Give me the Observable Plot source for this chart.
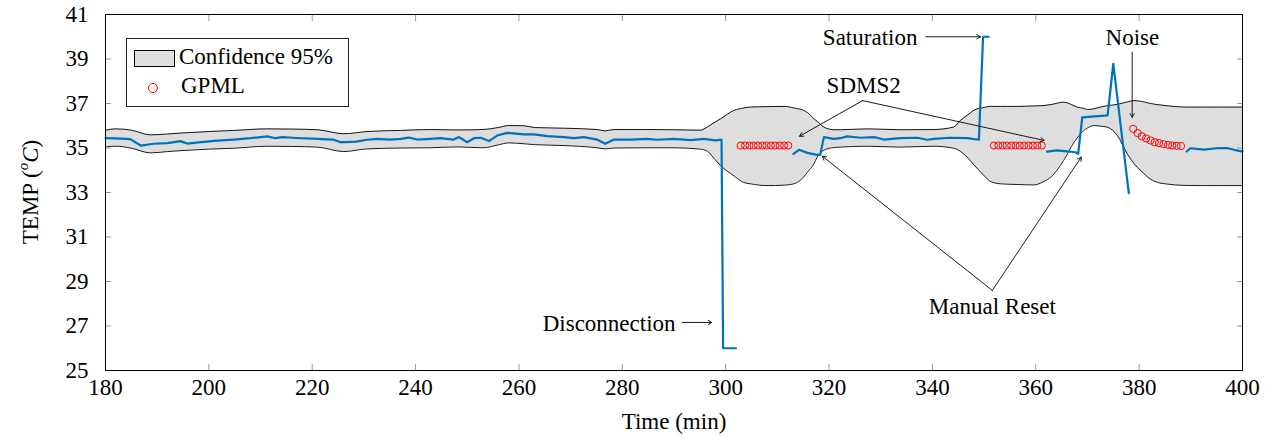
<!DOCTYPE html>
<html><head><meta charset="utf-8">
<script src="https://cdn.jsdelivr.net/npm/d3@7"></script>
<script src="https://cdn.jsdelivr.net/npm/@observablehq/plot@0.6"></script>
<style>
body{margin:0;background:#fff;}
#wrap{position:relative;width:1270px;height:438px;font-family:"Liberation Serif",serif;}
#legend{position:absolute;left:126px;top:38px;}
</style></head>
<body><div id="wrap"></div>
<script>
// Confidence band (95%)
const bandTime  = [180,182,185,188.7,192,195.2,200,204.8,211.3,216,221,226.1,230.6,237.1,242.9,248,253,256,258,261,263,268.7,275.1,276.7,278.4,284.8,290,295.1,296.5,297.5,299,301.6,303.5,304.8,308,311.3,313.2,315.1,315.8,317.1,317.7,319,319.6,320.9,322.2,327.4,333.8,340.3,344.1,345.4,346.7,348.2,350,351.2,353.2,356.4,359.6,361.6,362.9,365.4,367.4,368,369.3,370,371.2,372.5,373.8,375.8,377.7,379,380.3,382.2,383.5,385.4,388.7,392,400];
const bandUpper = [35.80,35.86,35.80,35.59,35.63,35.68,35.74,35.79,35.86,35.85,35.82,35.64,35.74,35.79,35.83,35.81,35.83,35.92,36.01,36.00,35.92,35.89,35.83,35.77,35.83,35.83,35.82,35.80,35.95,36.10,36.31,36.69,36.80,36.84,36.86,36.87,36.80,36.69,36.60,36.31,36.20,35.94,35.88,35.82,35.82,35.86,35.82,35.83,35.94,36.24,36.46,36.72,36.82,36.87,36.87,36.87,36.89,36.91,36.95,37.06,36.90,36.84,36.78,36.73,36.76,36.84,36.90,36.96,37.07,37.13,37.10,37.00,36.95,36.90,36.84,36.84,36.84];
const bandLower = [35.05,35.08,34.99,34.78,34.84,34.89,34.95,34.99,35.08,35.07,35.04,34.84,34.96,35.00,35.01,35.05,35.01,35.14,35.23,35.19,35.15,35.11,35.01,34.96,35.00,35.01,35.01,34.95,34.85,34.60,34.21,33.75,33.45,33.39,33.31,33.33,33.39,33.70,33.91,34.30,34.59,34.90,34.96,35.02,35.04,35.08,35.04,35.08,34.99,34.85,34.59,34.20,33.76,33.50,33.39,33.36,33.34,33.50,33.69,34.44,35.26,35.45,35.79,35.90,36.01,35.98,35.94,35.56,34.74,34.30,33.99,33.60,33.46,33.38,33.32,33.31,33.31];

// Sensor measurements (null = gap)
const sensorTime = [180,182,184.8,186.8,189.3,192,194.5,195.8,198,201.6,204.8,208,211.3,212.9,214.2,217,221,224,225.5,226.4,228.5,230.6,232.6,235,237.1,238.7,240.3,242.9,244.8,247.4,248.4,250,251.3,252.6,254.2,255.8,257.7,260.9,262.9,265.5,268.7,270.6,272.6,275.1,276.7,278.4,281.6,284.8,286.8,290,293.2,295.8,298,299.2,299.5,302,
  306,
  313.1,314.2,315.8,317.7,318.3,319,320.9,322.2,323.5,326.1,328.7,330.6,333.8,337.1,339,340.3,343.5,346.7,349,349.8,350.9,
  356,
  362.2,364.1,366.1,367.7,368.2,369,373.9,375,378,
  384,
  389.2,389.9,392.5,395.1,397,398.9,400];
const sensorTemp = [35.44,35.43,35.40,35.11,35.19,35.22,35.31,35.20,35.25,35.33,35.38,35.44,35.52,35.44,35.49,35.45,35.41,35.38,35.26,35.26,35.29,35.37,35.41,35.38,35.41,35.47,35.38,35.41,35.44,35.38,35.49,35.26,35.44,35.46,35.31,35.56,35.68,35.61,35.61,35.53,35.49,35.44,35.49,35.38,35.19,35.38,35.38,35.41,35.37,35.41,35.35,35.41,35.34,35.38,26.0,26.0,
  null,
  34.74,34.92,34.78,34.69,34.69,35.49,35.41,35.44,35.52,35.46,35.49,35.38,35.44,35.46,35.37,35.41,35.46,35.44,35.37,40.0,40.0,
  null,
  34.84,34.89,34.85,34.81,34.74,36.38,36.47,38.78,32.97,
  null,
  34.84,34.99,34.93,34.99,35.00,34.89,34.84];

// GPML reconstruction
const gpmlTime = [302.9,303.75,304.6,305.4,306.25,307.1,307.9,308.75,309.6,310.45,311.3,312.1,
  351.9,352.75,353.6,354.4,355.25,356.1,356.9,357.75,358.6,359.45,360.3,361.15,
  378.85,379.7,380.5,381.35,382.2,383.0,383.85,384.7,385.6,386.4,387.25,388.1];
const gpmlTemp = [35.11,35.11,35.11,35.11,35.11,35.11,35.11,35.11,35.11,35.11,35.11,35.11,
  35.11,35.11,35.11,35.11,35.11,35.11,35.11,35.11,35.11,35.11,35.11,35.11,
  35.86,35.67,35.53,35.43,35.34,35.26,35.22,35.17,35.14,35.11,35.10,35.09];

const xTicks = [180,200,220,240,260,280,300,320,340,360,380,400];
const yTicks = [25,27,29,31,33,35,37,39,41];

// Annotations (data coordinates)
const noteText   = ["Disconnection","Saturation","SDMS2","Noise","Manual Reset"];
const noteTime   = [290.3,337.1,326.7,378.7,351.6];
const noteTemp   = [27.11,39.97,37.81,39.97,27.88];
const noteAnchor = ["end","end","middle","middle","middle"];
const arrowFromTime = [291.6,338.7,326.5,326.5,378.65,351.6,351.6];
const arrowFromTemp = [27.16,40.0,37.13,37.13,39.31,28.6,28.6];
const arrowToTime   = [297.3,349.3,314.3,361.6,378.65,318.7,368.8];
const arrowToTemp   = [27.16,40.0,35.53,35.34,36.38,34.63,34.59];

const band = bandTime.map((t,i)=>({t, hi: bandUpper[i], lo: bandLower[i]}));
const sensor = sensorTime.map((t,i)=>({t, v: sensorTemp[i]}));
const gpml = gpmlTime.map((t,i)=>({t, v: gpmlTemp[i]}));
const notes = noteText.map((s,i)=>({s, t: noteTime[i], v: noteTemp[i], a: noteAnchor[i]}));
const arrows = arrowFromTime.map((t,i)=>({t1:t, v1:arrowFromTemp[i], t2:arrowToTime[i], v2:arrowToTemp[i]}));

const font = '"Liberation Serif", serif';
const fs = 23;
const chart = Plot.plot({
  width: 1270, height: 438,
  marginLeft: 105, marginRight: 28, marginTop: 14, marginBottom: 68,
  style: {fontFamily: font, fontSize: fs + "px", color: "black", background: "white", overflow: "visible"},
  x: {domain: [180,400]},
  y: {domain: [25,41]},
  marks: [
    Plot.areaY(band, {x: "t", y1: "lo", y2: "hi", fill: "#dedede", curve: "monotone-x"}),
    Plot.line(band, {x: "t", y: "hi", stroke: "black", strokeWidth: 0.9, curve: "monotone-x"}),
    Plot.line(band, {x: "t", y: "lo", stroke: "black", strokeWidth: 0.9, curve: "monotone-x"}),
    Plot.line(sensor, {x: "t", y: "v", stroke: "#0072BD", strokeWidth: 2.2}),
    Plot.dot(gpml, {x: "t", y: "v", r: 3.6, stroke: "red", fill: "none", strokeWidth: 1}),
    Plot.arrow(arrows, {x1: "t1", y1: "v1", x2: "t2", y2: "v2", stroke: "black", strokeWidth: 0.9, headLength: 7}),
    Plot.text(notes.filter(d=>d.a==="end"), {x: "t", y: "v", text: "s", textAnchor: "end", fontSize: fs, fill: "black"}),
    Plot.text(notes.filter(d=>d.a==="middle"), {x: "t", y: "v", text: "s", textAnchor: "middle", fontSize: fs, fill: "black"}),
    Plot.axisX(xTicks, {anchor: "bottom", tickSize: -6, tickPadding: 14, stroke: "#999", label: null, fontSize: fs}),
    Plot.axisX(xTicks, {anchor: "top", tickSize: -6, stroke: "#999", label: null, tickFormat: () => ""}),
    Plot.axisY(yTicks, {anchor: "left", tickSize: -6, tickPadding: 23, stroke: "#999", label: null, fontSize: fs}),
    Plot.axisY(yTicks, {anchor: "right", tickSize: -6, stroke: "#999", label: null, tickFormat: () => ""}),
    Plot.frame({stroke: "black", strokeWidth: 1}),
    Plot.text(["Time (min)"], {frameAnchor: "bottom", dy: 58, fontSize: fs, fill: "black"})
  ]
});

const wrap = document.getElementById("wrap");
wrap.appendChild(chart);

// y-axis label with italic superscript
const svg = d3.select(chart);
const yl = svg.append("text")
  .attr("transform", "translate(33,192) rotate(-90)")
  .attr("text-anchor", "middle")
  .attr("dominant-baseline", "middle")
  .attr("font-family", font).attr("font-size", fs).attr("fill", "black");
yl.append("tspan").text("TEMP (");
yl.append("tspan").attr("font-style", "italic").attr("font-size", 15).attr("dy", -8).text("o");
yl.append("tspan").attr("font-style", "italic").attr("dy", 8).text("C");
yl.append("tspan").text(")");

// Legend
const lg = d3.select(wrap).append("svg").attr("id", "legend")
  .attr("width", 224).attr("height", 70);
lg.append("rect").attr("x", 0.5).attr("y", 0.5).attr("width", 222).attr("height", 68)
  .attr("fill", "white").attr("stroke", "#222").attr("stroke-width", 1);
lg.append("rect").attr("x", 8.5).attr("y", 12.5).attr("width", 40).attr("height", 16)
  .attr("fill", "#dedede").attr("stroke", "black").attr("stroke-width", 1);
lg.append("text").attr("x", 53).attr("y", 21).attr("dominant-baseline", "middle")
  .attr("font-family", font).attr("font-size", fs).text("Confidence 95%");
lg.append("circle").attr("cx", 27).attr("cy", 50).attr("r", 4.5)
  .attr("fill", "none").attr("stroke", "red").attr("stroke-width", 1);
lg.append("text").attr("x", 55).attr("y", 50).attr("dominant-baseline", "middle")
  .attr("font-family", font).attr("font-size", fs).text("GPML");
</script>
</body></html>
